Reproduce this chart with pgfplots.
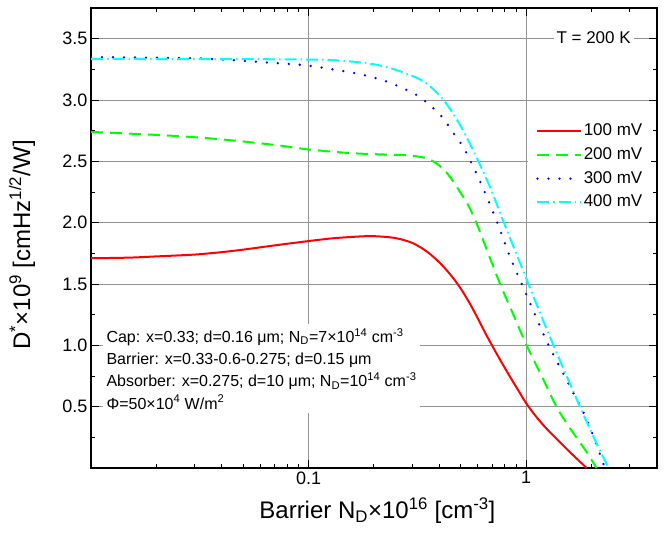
\documentclass[border=0pt]{standalone}
\usepackage{fontspec}
\setmainfont{Liberation Sans}
\usepackage{pgfplots}
\usepackage{pgfplotstable}
\pgfplotsset{compat=1.18}
\definecolor{cRed}{RGB}{255,0,0}
\definecolor{cGreen}{RGB}{0,255,0}
\definecolor{cBlue}{RGB}{0,0,255}
\definecolor{cCyan}{RGB}{0,255,255}

% D* vs barrier doping, T = 200 K
\pgfplotstableread{
x y
0.01 1.71
0.015 1.715
0.02 1.725
0.03 1.74
0.04 1.76
0.05 1.78
0.07 1.815
0.1 1.85
0.13 1.873
0.17 1.887
0.2 1.89
0.25 1.875
0.3 1.835
0.35 1.765
0.4 1.675
0.45 1.575
0.5 1.465
0.55 1.345
0.6 1.22
0.65 1.10
0.7 0.995
0.77 0.865
0.85 0.735
0.92 0.635
1.0 0.53
1.1 0.43
1.2 0.35
1.3 0.285
1.45 0.20
1.6 0.125
1.75 0.06
1.9 0.0
}\tabA
\pgfplotstableread{
x y
0.01 2.74
0.0154 2.725
0.0228 2.71
0.0337 2.69
0.0493 2.663
0.0728 2.63
0.1 2.597
0.156 2.567
0.23 2.555
0.284 2.55
0.337 2.532
0.37 2.505
0.403 2.46
0.44 2.39
0.481 2.29
0.543 2.14
0.594 1.99
0.67 1.75
0.76 1.50
0.87 1.26
1.0 1.01
1.18 0.75
1.38 0.50
1.6 0.32
1.9 0.13
2.11 0.0
}\tabB
\pgfplotstableread{
x y
0.01 3.35
0.02 3.345
0.03 3.34
0.04 3.33
0.05 3.32
0.065 3.305
0.08 3.295
0.1 3.28
0.143 3.237
0.179 3.204
0.225 3.155
0.284 3.08
0.321 3.03
0.36 2.96
0.403 2.88
0.44 2.79
0.481 2.69
0.525 2.59
0.626 2.306
0.735 2.006
0.845 1.72
1.0 1.42
1.24 1.04
1.54 0.714
1.85 0.44
2.04 0.26
2.19 0.11
2.3 0.0
}\tabC
\pgfplotstableread{
x y
0.01 3.335
0.05 3.333
0.1 3.33
0.13 3.325
0.186 3.30
0.238 3.26
0.316 3.18
0.363 3.11
0.418 3.0
0.481 2.84
0.543 2.67
0.672 2.32
0.789 2.006
1.0 1.55
1.2 1.20
1.43 0.88
1.77 0.50
2.15 0.17
2.4 0.0
}\tabD

\begin{document}
\begin{tikzpicture}
\begin{axis}[
    scale only axis, width=566pt, height=460pt,
    xmode=log, xmin=0.01, xmax=4, ymin=0, ymax=3.75,
    xtick={0.01,0.1,1}, xticklabels={,0.1,1},
    minor xtick={0.02,0.03,0.04,0.05,0.06,0.07,0.08,0.09,0.2,0.3,0.4,0.5,0.6,0.7,0.8,0.9,2,3},
    ytick={0.5,1,...,3.5}, minor ytick={0.25,0.75,...,3.75},
    yticklabel style={/pgf/number format/.cd, fixed, fixed zerofill, precision=1},
    /pgf/number format/assume math mode=true,
    tick label style={font=\fontsize{18}{20}\selectfont, black},
    tick align=inside, major tick length=8pt, minor tick length=4pt,
    tick style={black, line width=1pt},
    axis line style={line width=1.5pt},
    grid=major, major grid style={gray!85, line width=0.8pt},
    xlabel={Barrier N\textsubscript{D}×10\textsuperscript{16} [cm\textsuperscript{-3}]},
    ylabel={D\textsuperscript{*}×10\textsuperscript{9} [cmHz\textsuperscript{1/2}/W]},
    label style={font=\fontsize{24}{26}\selectfont},
    xlabel style={at={(axis description cs:0.506,-0.093)}, anchor=center},
    ylabel style={at={(axis description cs:-0.122,0.485)}, anchor=center},
    legend image code/.code={\draw[#1] (0pt,0pt) -- (44pt,0pt);},
    legend cell align=left,
    legend style={at={(axis description cs:0.772,0.768)}, anchor=north west,
        draw=none, fill=white, inner xsep=8pt, inner ysep=7pt,
        font=\fontsize{17}{19}\selectfont, row sep=4.6pt,
        nodes={text height=13pt, text depth=4pt, inner sep=1pt},
        /tikz/every even column/.style={column sep=2pt}},
]
\addplot[cRed, line width=2pt, smooth] table[x=x, y=y] {\tabA};
\addplot[cGreen, line width=2pt, smooth, dash pattern=on 12pt off 7pt] table[x=x, y=y] {\tabB};
\addplot[cBlue, line width=2.6pt, smooth, line cap=round, dash pattern=on 0pt off 11pt] table[x=x, y=y] {\tabC};
\addplot[cCyan, line width=2pt, smooth, dash pattern=on 12pt off 4pt on 1.5pt off 4pt] table[x=x, y=y] {\tabD};
\legend{100 mV, 200 mV, 300 mV, 400 mV}

\node[fill=white, inner sep=3pt, font=\fontsize{17}{20}\selectfont] at (axis description cs:0.888,0.935) {T = 200 K};
\node[fill=white, align=left, anchor=north west, inner sep=4pt,
      font=\fontsize{16}{22.3}\selectfont] at (axis description cs:0.02,0.313)
  {Cap: x=0.33; d=0.16 μm; N\textsubscript{D}=7×10\textsuperscript{14} cm\textsuperscript{-3}\\
   Barrier: x=0.33-0.6-0.275; d=0.15 μm\\
   Absorber: x=0.275; d=10 μm; N\textsubscript{D}=10\textsuperscript{14} cm\textsuperscript{-3}\\
   Φ=50×10\textsuperscript{4} W/m\textsuperscript{2}};

\coordinate (bl) at (axis description cs:-0.1608,-0.1652);
\coordinate (tr) at (axis description cs:1.0212,1.0174);
\end{axis}
\pgfresetboundingbox
\path[use as bounding box] (bl) rectangle (tr);
\end{tikzpicture}
\end{document}
